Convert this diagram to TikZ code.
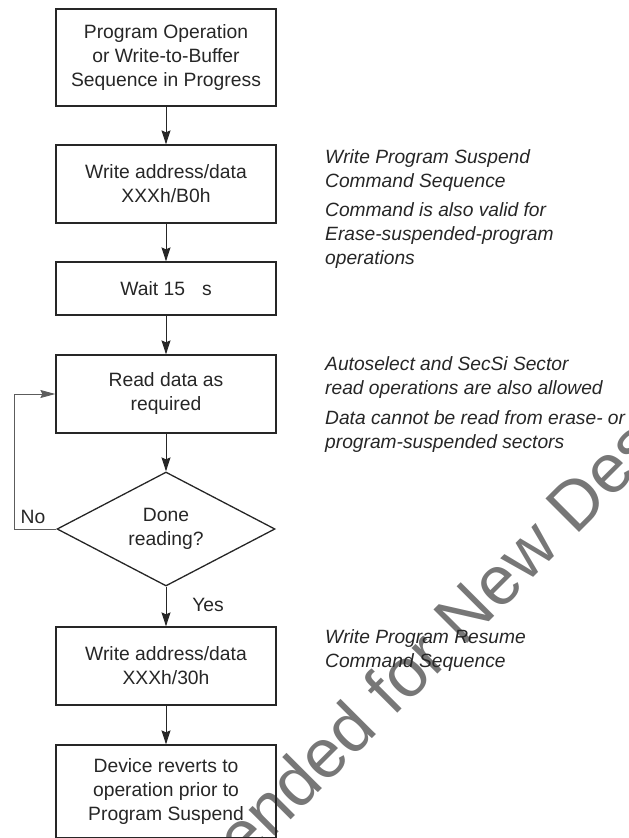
\documentclass[tikz,border=0pt]{standalone}
\usepackage{fontspec}
\setmainfont{Liberation Sans}
\usetikzlibrary{arrows.meta,shapes.geometric}
\definecolor{ink}{HTML}{262626}
\definecolor{stampgrey}{HTML}{777777}

\begin{document}
\begin{tikzpicture}[x=1pt,y=-1pt]
  \tikzset{box/.style = {draw=ink, line width=1.3pt, minimum width=220pt, inner sep=0pt, align=center, text=ink, font=\fontsize{19.3}{24}\selectfont}}
  \tikzset{decision/.style = {box, diamond, aspect=1.9, minimum width=218pt, minimum height=114pt}}
  \tikzset{flow/.style = {-{Stealth[length=14pt,width=9pt,inset=2pt]}, line width=1pt, draw=ink}}
  \tikzset{back/.style = {-{Stealth[length=15pt,width=8pt,inset=2pt]}, line width=0.9pt, draw=ink!75}}
  \tikzset{note/.style = {anchor=base west, inner sep=0pt, align=left, text=ink, font=\itshape\fontsize{19.2}{24}\selectfont}}
  \tikzset{lbl/.style = {inner sep=0pt, text=ink, font=\fontsize{19.3}{24}\selectfont}}
  \useasboundingbox (0,0) rectangle (629,838);

  % stamp (behind the chart)
  \begin{scope}
    \clip (0,0) rectangle (629,838);
    \node[rotate=45, inner sep=0pt, text=stampgrey, font=\fontsize{69}{69}\selectfont] (stamp) at (343,743) {Not Recommended for New Designs};
  \end{scope}

  % boxes
  \node[box, minimum height=97pt] (start) at (166,57.5) {Program Operation\\or Write-to-Buffer\\Sequence in Progress};
  \node[box, minimum height=78pt] (suspend) at (166,184) {Write address/data\\XXXh/B0h};
  \node[box, minimum height=53pt] (wait) at (166,288.5) {Wait 15\hspace{.88em}s};
  \node[box, minimum height=78pt] (read) at (166,394) {Read data as\\required};
  \node[decision] (done) at (166,529) {Done\\reading?};
  \node[box, minimum height=78pt] (resume) at (166,666) {Write address/data\\XXXh/30h};
  \node[box, minimum height=93pt] (revert) at (166,791.5) {Device reverts to\\operation prior to\\Program Suspend};

  % arrows
  \draw[flow] (start) -- (suspend);
  \draw[flow] (suspend) -- (wait);
  \draw[flow] (wait) -- (read);
  \draw[flow] (read) -- (done);
  \draw[flow] (done) -- (resume);
  \draw[flow] (resume) -- (revert);
  \coordinate (loop) at (14,529);
  \draw[back] (done.west) -- (loop) |- (read.west);
  \node[lbl] (no) at (33,517) {No};
  \node[lbl] (yes) at (208,605) {Yes};

  % notes (anchored on the last line)
  \node[note] (notesuspend) at (325,187) {Write Program Suspend\\Command Sequence};
  \node[note] (notevalid) at (325,264) {Command is also valid for\\Erase-suspended-program\\operations};
  \node[note] (noteauto) at (325,394) {Autoselect and SecSi Sector\\read operations are also allowed};
  \node[note] (notedata) at (325,448) {Data cannot be read from erase- or\\program-suspended sectors};
  \node[note] (noteresume) at (325,667) {Write Program Resume\\Command Sequence};
\end{tikzpicture}
\end{document}
